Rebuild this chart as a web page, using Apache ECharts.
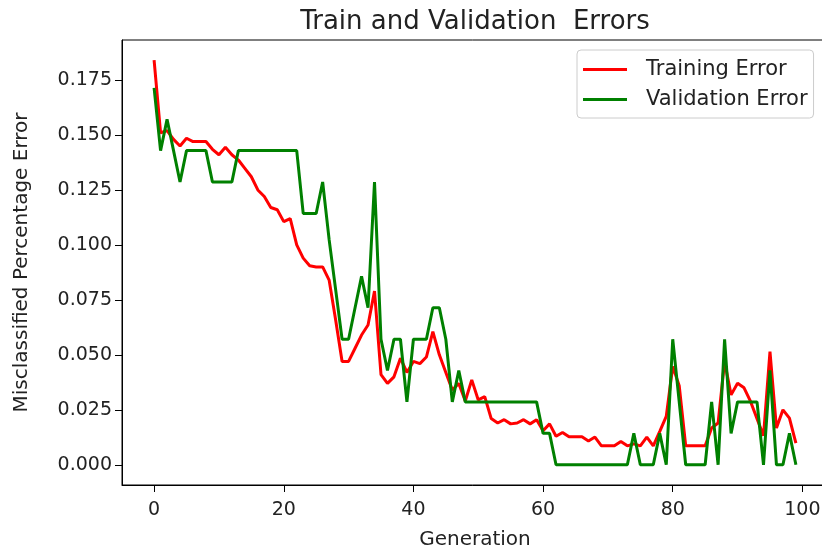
<!DOCTYPE html>
<html>
<head>
<meta charset="utf-8">
<script src="https://cdn.jsdelivr.net/npm/echarts@6/dist/echarts.min.js"></script>
<style>
  html, body { margin: 0; padding: 0; background: #fff; }
  #chart { width: 822px; height: 552px; }
</style>
</head>
<body>
<div id="chart"></div>
<script>
// Generations 0..99
const generations = Array.from({length: 100}, (_, i) => i);

const trainingError = [
  0.184, 0.151, 0.152, 0.148, 0.145, 0.1485, 0.147, 0.147, 0.147, 0.1435,
  0.141, 0.1444, 0.141, 0.1386, 0.1348, 0.131, 0.125, 0.122, 0.117, 0.116,
  0.1106, 0.112, 0.100, 0.094, 0.0905, 0.090, 0.090, 0.084, 0.066, 0.047,
  0.047, 0.053, 0.059, 0.0636, 0.079, 0.041, 0.037, 0.040, 0.0485, 0.042,
  0.047, 0.046, 0.049, 0.0606, 0.050, 0.042, 0.034, 0.037, 0.029, 0.0386,
  0.0295, 0.031, 0.021, 0.019, 0.0205, 0.0186, 0.019, 0.0205, 0.0186, 0.0205,
  0.0155, 0.0186, 0.013, 0.0147, 0.0127, 0.0127, 0.0127, 0.0108, 0.0126, 0.0086,
  0.0086, 0.0086, 0.0106, 0.0086, 0.0095, 0.0086, 0.0126, 0.0086, 0.0152, 0.022,
  0.0447, 0.036, 0.0086, 0.0086, 0.0086, 0.0086, 0.0167, 0.019, 0.047, 0.0318,
  0.0371, 0.035, 0.0288, 0.021, 0.0132, 0.0515, 0.0167, 0.025, 0.0212, 0.0098
];

const validationError = [
  0.1714, 0.1429, 0.1571, 0.1429, 0.1286, 0.1429, 0.1429, 0.1429, 0.1429, 0.1286,
  0.1286, 0.1286, 0.1286, 0.1429, 0.1429, 0.1429, 0.1429, 0.1429, 0.1429, 0.1429,
  0.1429, 0.1429, 0.1429, 0.1143, 0.1143, 0.1143, 0.1286, 0.1024, 0.0798, 0.0571,
  0.0571, 0.0714, 0.0857, 0.0714, 0.1286, 0.0571, 0.0429, 0.0571, 0.0571, 0.0286,
  0.0571, 0.0571, 0.0571, 0.0714, 0.0714, 0.0571, 0.0286, 0.0429, 0.0286, 0.0286,
  0.0286, 0.0286, 0.0286, 0.0286, 0.0286, 0.0286, 0.0286, 0.0286, 0.0286, 0.0286,
  0.0143, 0.0143, 0, 0, 0, 0, 0, 0, 0, 0,
  0, 0, 0, 0, 0.0143, 0, 0, 0, 0.0143, 0,
  0.0571, 0.0286, 0, 0, 0, 0, 0.0286, 0, 0.0571, 0.0143,
  0.0286, 0.0286, 0.0286, 0.0286, 0, 0.0429, 0, 0, 0.0143, 0
];

const xTicks = [0, 20, 40, 60, 80, 100];
const yTicks = [0, 0.025, 0.05, 0.075, 0.1, 0.125, 0.15, 0.175];

const seriesNames = ['Training Error', 'Validation Error'];
const titleText = 'Train and Validation  Errors';
const xName = 'Generation';
const yName = 'Misclassified Percentage Error';

const FONT = 'DejaVu Sans';
const TXT = '#222';

const chart = echarts.init(document.getElementById('chart'), null, {renderer: 'canvas'});
chart.setOption({
  animation: false,
  backgroundColor: '#fff',
  title: {
    text: titleText,
    left: 470,
    top: 4,
    textAlign: 'center',
    textStyle: { fontFamily: FONT, fontSize: 26, fontWeight: 'normal', color: TXT }
  },
  legend: {
    data: seriesNames.map(n => ({ name: n, icon: 'rect' })),
    orient: 'vertical',
    left: 577,
    top: 50,
    itemWidth: 44,
    itemHeight: 3,
    itemGap: 9,
    padding: [9, 6, 8, 6],
    borderColor: '#cccccc',
    borderWidth: 1,
    borderRadius: 4,
    backgroundColor: 'rgba(255,255,255,0.8)',
    textStyle: { fontFamily: FONT, fontSize: 21, color: TXT, padding: [0, 0, 0, 14] }
  },
  grid: {
    left: 122, top: 40, right: -6, bottom: 67,
    show: true, borderColor: '#000', borderWidth: 1, backgroundColor: 'transparent',
    containLabel: false,
    outerBoundsMode: 'none'
  },
  xAxis: {
    type: 'value',
    min: -4.95,
    max: 103.95,
    name: xName,
    nameLocation: 'middle',
    nameGap: 45,
    nameTextStyle: { fontFamily: FONT, fontSize: 20, color: TXT },
    axisLine: { show: true, onZero: false, lineStyle: { color: '#000', width: 1 } },
    axisTick: { show: true, inside: false, length: 7, lineStyle: { color: '#000' }, customValues: xTicks },
    axisLabel: { fontFamily: FONT, fontSize: 19, color: TXT, margin: 16, customValues: xTicks,
      formatter: v => String(Math.round(v)) },
    splitLine: { show: false }
  },
  yAxis: {
    type: 'value',
    min: -0.0092,
    max: 0.1932,
    name: yName,
    nameLocation: 'middle',
    nameGap: 90,
    nameTextStyle: { fontFamily: FONT, fontSize: 20, color: TXT },
    axisLine: { show: true, onZero: false, lineStyle: { color: '#000', width: 1 } },
    axisTick: { show: true, inside: false, length: 7, lineStyle: { color: '#000' }, customValues: yTicks },
    axisLabel: { fontFamily: FONT, fontSize: 19, color: TXT, margin: 10, customValues: yTicks,
      formatter: v => v.toFixed(3) },
    splitLine: { show: false }
  },
  series: [
    {
      name: seriesNames[0],
      type: 'line',
      data: generations.map((g, i) => [g, trainingError[i]]),
      symbol: 'none',
      lineStyle: { color: '#ff0000', width: 3 },
      itemStyle: { color: '#ff0000' },
      z: 2
    },
    {
      name: seriesNames[1],
      type: 'line',
      data: generations.map((g, i) => [g, validationError[i]]),
      symbol: 'none',
      lineStyle: { color: '#008000', width: 3 },
      itemStyle: { color: '#008000' },
      z: 3
    }
  ]
});
</script>
</body>
</html>
